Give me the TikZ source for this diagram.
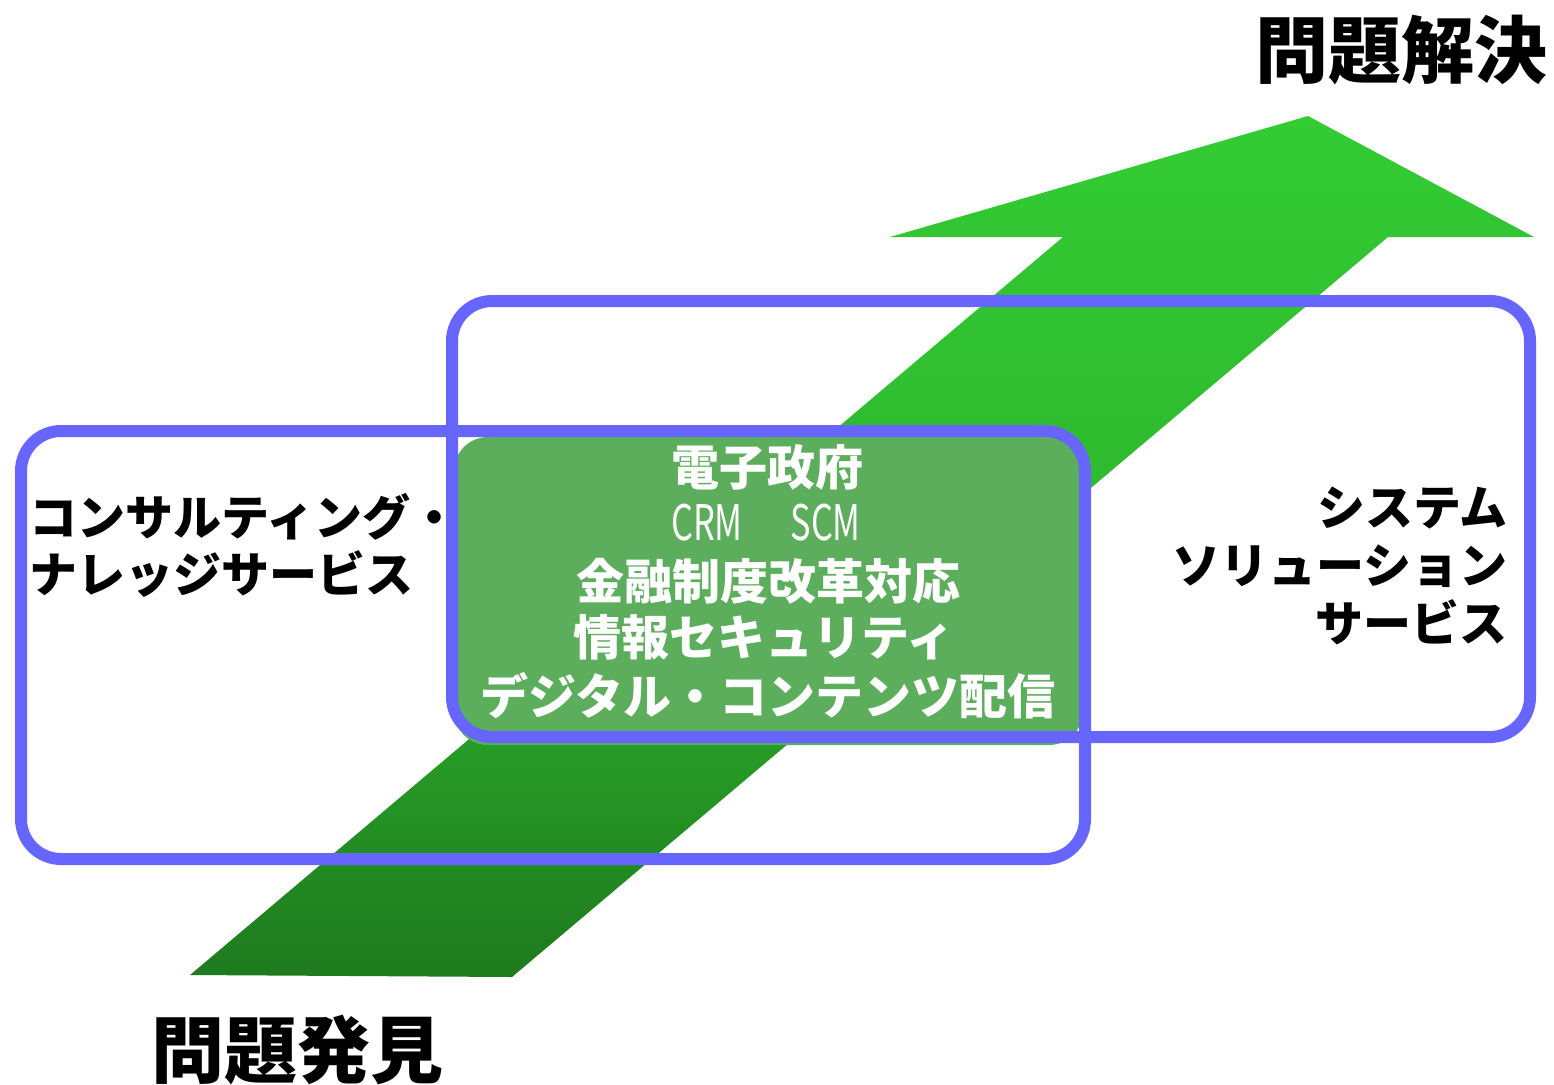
\documentclass[tikz,border=0pt]{standalone}
\usepackage{fontspec}
\newfontfamily\jp{Noto Sans CJK JP}
\usetikzlibrary{calc}
\definecolor{boxblue}{HTML}{6666FF}
\definecolor{arrtop}{HTML}{33CC33}
\definecolor{arrbot}{HTML}{1E7A1E}
\definecolor{midgreen}{HTML}{5CAE5C}
\tikzset{
  bluebox/.style={draw=boxblue, line width=6pt, rounded corners=20pt},
  greenbox/.style={fill=midgreen, rounded corners=17pt},
  lbl/.style={inner sep=0pt, font=\jp\bfseries\fontsize{24pt}{28pt}\selectfont},
  wlbl/.style={lbl, text=white},
  title/.style={inner sep=0pt, font=\jp\bfseries\fontsize{36.5pt}{40pt}\selectfont}
}
\begin{document}
\begin{tikzpicture}[x=0.5pt,y=-0.5pt]
\useasboundingbox (0,0) rectangle (1554,1084);
% big arrow
\shade[top color=arrtop, bottom color=arrbot, middle color=arrtop!75!arrbot]
  (190,975) -- (512,977) -- (1388,237) -- (1534,237) -- (1308,116)
  -- (890,237) -- (1063,237) -- cycle;
% center green box
\fill[greenbox] (454,437) rectangle (1083,745);
% blue boxes
\draw[bluebox] (452,301) rectangle (1530,737);
\draw[bluebox] (21,431) rectangle (1085,859);
% titles
\node[title] (top) at (1401,50) {問題解決};
\node[title] (bottom) at (297,1050) {問題発見};
% left text
\node[lbl, anchor=west] (l1) at (29,517) {コンサルティング・};
\node[lbl, anchor=west] (l2) at (29,574) {ナレッジサービス};
% right text
\node[lbl, anchor=east] (r1) at (1508,508) {システム};
\node[lbl, anchor=east] (r2) at (1508,566) {ソリューション};
\node[lbl, anchor=east] (r3) at (1508,622) {サービス};
% center text
\node[wlbl] (c1) at (767,467) {電子政府};
\node[inner sep=0pt, text=white, font=\jp\fontsize{24.5pt}{28pt}\selectfont] (c2) at (766,523)
  {\scalebox{0.7}[1]{CRM}\hspace{24pt}\scalebox{0.7}[1]{SCM}};
\node[wlbl] (c3) at (768,581) {金融制度改革対応};
\node[wlbl] (c4) at (764,637) {情報セキュリティ};
\node[wlbl] (c5) at (768,696) {デジタル・コンテンツ配信};
\end{tikzpicture}
\end{document}
